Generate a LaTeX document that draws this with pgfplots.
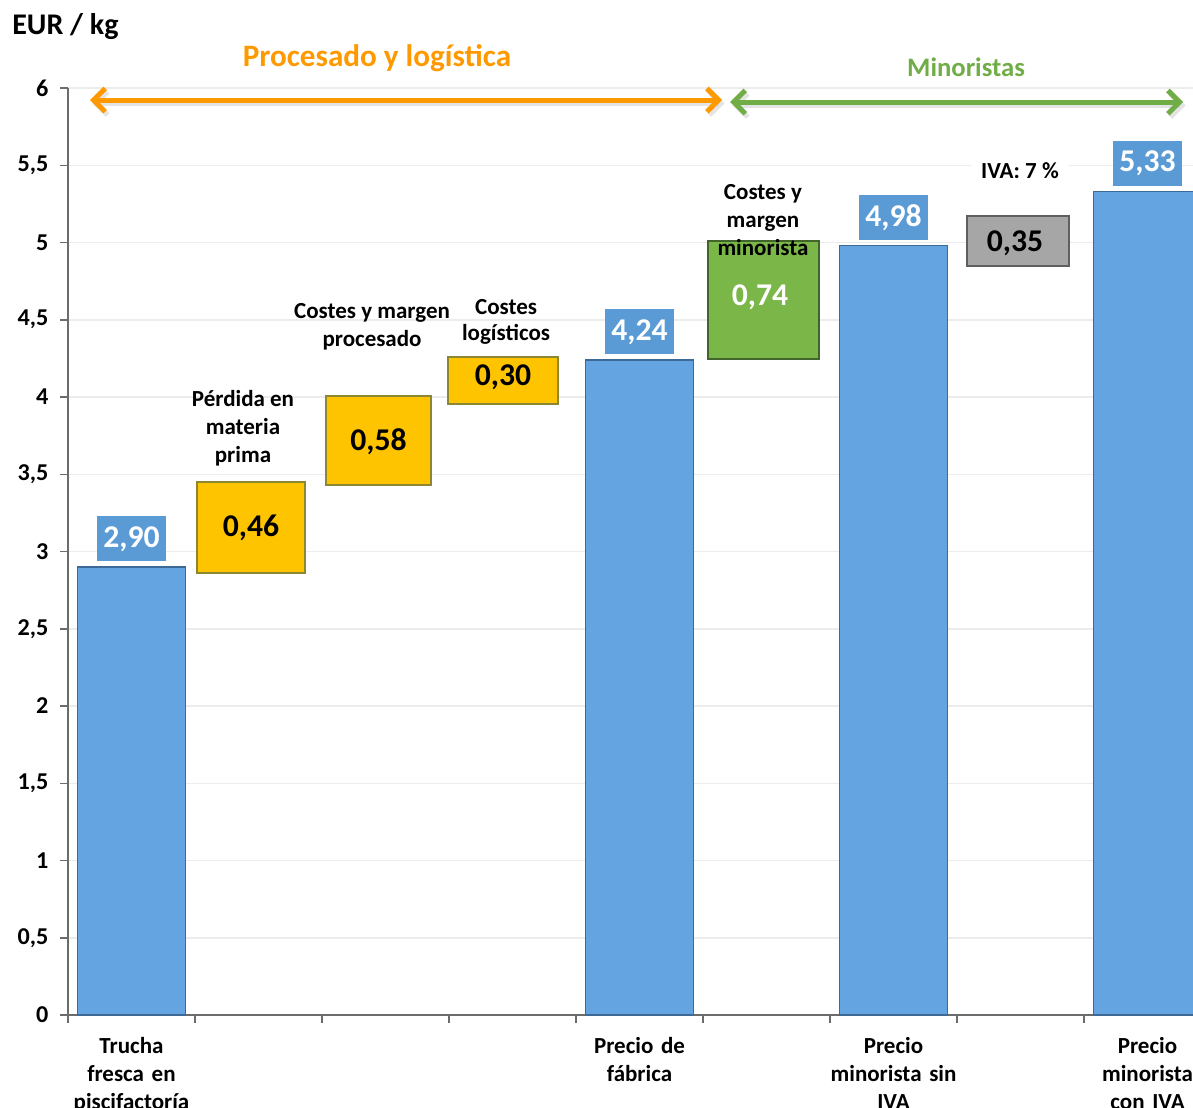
\documentclass[border=0pt]{standalone}
\usepackage{pgfplots}
\pgfplotsset{compat=1.18}
\usepackage{fontspec}
\setmainfont{Carlito}
\usetikzlibrary{arrows.meta}

\definecolor{barblue}{RGB}{99,164,225}
\definecolor{baredge}{RGB}{60,105,150}
\definecolor{lblblue}{RGB}{91,155,213}
\definecolor{gold}{RGB}{255,196,0}
\definecolor{goldedge}{RGB}{140,135,50}
\definecolor{mgreen}{RGB}{122,182,72}
\definecolor{greenedge}{RGB}{65,100,45}
\definecolor{ivagray}{RGB}{166,166,166}
\definecolor{grayedge}{RGB}{95,95,95}
\definecolor{orng}{RGB}{255,153,0}
\definecolor{grn}{RGB}{112,173,71}

\tikzset{
  lbl/.style={font=\bfseries\fontsize{13.8}{16.8}\selectfont, align=center},
  val/.style={font=\bfseries\fontsize{19}{19}\selectfont},
  box/.style={line width=1.2pt},
}

\begin{document}
\begin{tikzpicture}
\begin{axis}[
  scale only axis, width=675pt, height=556.2pt,
  xmin=-0.5, xmax=8.358, ymin=0, ymax=6,
  clip mode=individual,
  axis x line*=bottom, axis y line*=left,
  axis line style={draw=gray!85!black, line width=0.9pt},
  tick style={draw=gray!85!black, line width=0.9pt},
  tick align=outside,
  major tick length=4.8pt, minor tick length=4.8pt,
  ytick={0,0.5,1,1.5,2,2.5,3,3.5,4,4.5,5,5.5,6},
  ymajorgrids, grid style={draw=gray!15, line width=0.9pt},
  /pgf/number format/use comma,
  /pgf/number format/assume math mode=true,
  yticklabel style={font=\bfseries\fontsize{14.5}{14.5}\selectfont, xshift=-3.5pt},
  xtick={0,4,6,8},
  xticklabels={{Trucha\\fresca en\\piscifactoría},{Precio de\\fábrica},
    {Precio\\minorista sin\\IVA},{Precio\\minorista\\con IVA}},
  xticklabel style={lbl, text width=95pt, anchor=north, yshift=-5pt},
  major x tick style={draw=none},
  minor xtick={-0.5,0.5,1.5,2.5,3.5,4.5,5.5,6.5,7.5},
]
% price levels
\addplot [ybar, bar width=0.85, fill=barblue, draw=baredge, line width=0.8pt,
  nodes near coords={\pgfmathprintnumber[fixed,fixed zerofill,precision=2,use comma]{\pgfplotspointmeta}},
  nodes near coords style={fill=lblblue, text=white, val, minimum width=41pt,
    minimum height=27pt, inner sep=1pt, anchor=south, yshift=3pt}]
  coordinates {(0,2.90) (4,4.24) (6,4.98) (8,5.33)};

% cost steps (corners as drawn)
\addplot [fill=gold, draw=goldedge, box] coordinates
  {(0.516,2.86) (1.366,2.86) (1.366,3.45) (0.516,3.45)} -- cycle;
\addplot [fill=gold, draw=goldedge, box] coordinates
  {(1.531,3.43) (2.358,3.43) (2.358,4.006) (1.531,4.006)} -- cycle;
\addplot [fill=gold, draw=goldedge, box] coordinates
  {(2.492,3.955) (3.358,3.955) (3.358,4.26) (2.492,4.26)} -- cycle;
\addplot [fill=mgreen, draw=greenedge, box] coordinates
  {(4.539,4.246) (5.413,4.246) (5.413,5.01) (4.539,5.01)} -- cycle;
\addplot [fill=ivagray, draw=grayedge, box] coordinates
  {(6.579,4.85) (7.382,4.85) (7.382,5.17) (6.579,5.17)} -- cycle;

% values in boxes
\node[val] at (axis cs:0.941,3.152) {0,46};
\node[val] at (axis cs:1.945,3.709) {0,58};
\node[val] at (axis cs:2.925,4.130) {0,30};
\node[val, text=white] at (axis cs:4.949,4.647) {0,74};
\node[val] at (axis cs:6.957,4.997) {0,35};

% step names
\node[lbl] at (axis cs:0.878,3.80) {Pérdida en\\materia\\prima};
\node[lbl] at (axis cs:1.894,4.453) {Costes y margen\\procesado};
\node[lbl, font=\bfseries\fontsize{13.8}{15.6}\selectfont] at (axis cs:2.949,4.485) {Costes\\logísticos};
\node[lbl] at (axis cs:4.972,5.146) {Costes y\\margen\\minorista};
\node[lbl, fill=white, inner xsep=6pt] at (axis cs:6.996,5.463) {IVA: 7 \%};

% titles and arrows
\node[anchor=west, font=\bfseries\fontsize{18}{18}\selectfont, inner sep=0pt]
  at (axis cs:-0.941,6.395) {EUR / kg};
\node[font=\bfseries\fontsize{18.7}{18.7}\selectfont, text=orng]
  at (axis cs:1.933,6.194) {Procesado y logística};
\node[font=\bfseries\fontsize{16}{16}\selectfont, text=grn]
  at (axis cs:6.571,6.136) {Minoristas};
\draw[gray!35, line width=3pt, opacity=0.6, {Straight Barb[length=7pt,width=14pt]}-{Straight Barb[length=7pt,width=14pt]}]
  ([shift={(1.5pt,-2pt)}]axis cs:-0.327,5.922) -- ([shift={(1.5pt,-2pt)}]axis cs:4.650,5.922);
\draw[gray!35, line width=3pt, opacity=0.6, {Straight Barb[length=7pt,width=14pt]}-{Straight Barb[length=7pt,width=14pt]}]
  ([shift={(1.5pt,-2pt)}]axis cs:4.713,5.909) -- ([shift={(1.5pt,-2pt)}]axis cs:8.280,5.909);
\draw[orng, line width=3pt, {Straight Barb[length=7pt,width=14pt]}-{Straight Barb[length=7pt,width=14pt]}]
  (axis cs:-0.327,5.922) -- (axis cs:4.650,5.922);
\draw[grn, line width=3pt, {Straight Barb[length=7pt,width=14pt]}-{Straight Barb[length=7pt,width=14pt]}]
  (axis cs:4.713,5.909) -- (axis cs:8.280,5.909);

\coordinate (bl) at (rel axis cs:0,0);
\end{axis}
\pgfresetboundingbox
\path[use as bounding box] ([shift={(-40.8pt,-55.8pt)}]bl) rectangle ([shift={(675pt,609pt)}]bl);
\end{tikzpicture}
\end{document}
